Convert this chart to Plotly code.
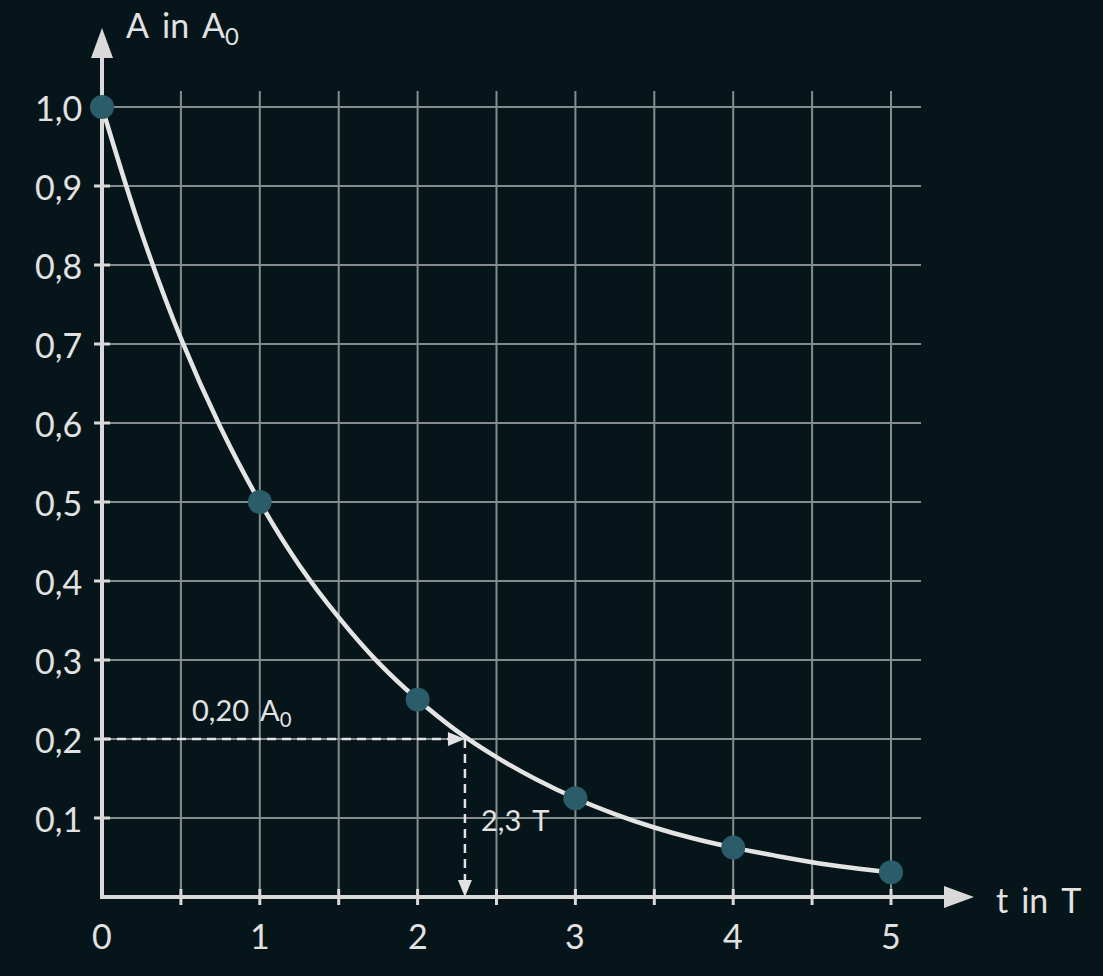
import plotly.graph_objects as go

# ---- data ----
t_points = [0, 1, 2, 3, 4, 5]
a_points = [1.0, 0.5, 0.25, 0.125, 0.0625, 0.03125]
t_curve = [0, 0.25, 0.5, 0.75, 1, 1.25, 1.5, 1.75, 2, 2.25, 2.5, 2.75, 3, 3.25, 3.5, 3.75, 4, 4.25, 4.5, 4.75, 5]
a_curve = [1.0, 0.841, 0.707, 0.595, 0.5, 0.42, 0.354, 0.297, 0.25, 0.21, 0.177, 0.149, 0.125,
           0.105, 0.088, 0.074, 0.0625, 0.053, 0.044, 0.037, 0.031]
x_tick_vals = [0, 1, 2, 3, 4, 5]
x_tick_text = ["0", "1", "2", "3", "4", "5"]
y_tick_vals = [0.1, 0.2, 0.3, 0.4, 0.5, 0.6, 0.7, 0.8, 0.9, 1.0]
y_tick_text = ["0,1", "0,2", "0,3", "0,4", "0,5", "0,6", "0,7", "0,8", "0,9", "1,0"]
x_minor = [0.5, 1, 1.5, 2, 2.5, 3, 3.5, 4, 4.5, 5]
read_a = 0.2
read_t = 2.3

# ---- pixel mapping ----
W, H = 1103, 976
X0, SX = 102, 157.8   # px of t=0, px per unit
Y0, SY = 897, 790     # px of A=0, px per unit

def tx(px):
    return (px - X0) / SX

def ay(py):
    return (Y0 - py) / SY

def dx(p):
    return p / SX

def dy(p):
    return p / SY

BG = "#061519"
GRID = "#858c8e"
AXIS = "#d9d9d9"
TEXT = "#e2e2e2"
DOT = "#2a5d69"
FONT = "Lato"

fig = go.Figure()
shapes = []
grid_top = ay(91)
grid_right = tx(921)
for x in x_minor:
    shapes.append(dict(type="line", x0=x, x1=x, y0=0, y1=grid_top, xref="x", yref="y",
                       line=dict(color=GRID, width=2), layer="below"))
for y in y_tick_vals:
    shapes.append(dict(type="line", x0=0, x1=grid_right, y0=y, y1=y, xref="x", yref="y",
                       line=dict(color=GRID, width=2), layer="below"))
# ticks
for x in x_minor:
    shapes.append(dict(type="line", x0=x, x1=x, y0=-dy(8), y1=dy(8), xref="x", yref="y",
                       line=dict(color=AXIS, width=3), layer="below"))
for y in y_tick_vals:
    shapes.append(dict(type="line", x0=-dx(8), x1=dx(8), y0=y, y1=y, xref="x", yref="y",
                       line=dict(color=AXIS, width=3), layer="below"))
# axes
x_tip = tx(974)
y_tip = ay(28)
shapes.append(dict(type="path", path=f"M {-dx(2)},0 L {x_tip - dx(20)},0", xref="x", yref="y",
                   line=dict(color=AXIS, width=4), layer="below"))
shapes.append(dict(type="path", path=f"M 0,{-dy(2)} L 0,{y_tip - dy(20)}", xref="x", yref="y",
                   line=dict(color=AXIS, width=4), layer="below"))
shapes.append(dict(type="path",
                   path=f"M {x_tip},0 L {x_tip - dx(30)},{dy(11)} L {x_tip - dx(30)},{-dy(11)} Z",
                   xref="x", yref="y", fillcolor=AXIS, line=dict(width=0), layer="below"))
shapes.append(dict(type="path",
                   path=f"M 0,{y_tip} L {-dx(11)},{y_tip - dy(30)} L {dx(11)},{y_tip - dy(30)} Z",
                   xref="x", yref="y", fillcolor=AXIS, line=dict(width=0), layer="below"))
# dashed reading lines
shapes.append(dict(type="line", x0=0, x1=read_t - dx(14), y0=read_a, y1=read_a, xref="x", yref="y",
                   line=dict(color=TEXT, width=2.5, dash="9px,6px"), layer="below"))
shapes.append(dict(type="path",
                   path=f"M {read_t},{read_a} L {read_t - dx(17)},{read_a + dy(7)} L {read_t - dx(17)},{read_a - dy(7)} Z",
                   xref="x", yref="y", fillcolor=TEXT, line=dict(width=0), layer="below"))
shapes.append(dict(type="line", x0=read_t, x1=read_t, y0=read_a, y1=dy(14), xref="x", yref="y",
                   line=dict(color=TEXT, width=2.5, dash="9px,6px"), layer="below"))
shapes.append(dict(type="path",
                   path=f"M {read_t},0 L {read_t - dx(7)},{dy(17)} L {read_t + dx(7)},{dy(17)} Z",
                   xref="x", yref="y", fillcolor=TEXT, line=dict(width=0), layer="below"))

fig.add_trace(go.Scatter(x=t_curve, y=a_curve, mode="lines", line=dict(color="#e4e4e4", width=4.5, shape="spline"),
                         hoverinfo="skip", showlegend=False))
fig.add_trace(go.Scatter(x=t_points, y=a_points, mode="markers",
                         marker=dict(color=DOT, size=24, line=dict(width=0)), showlegend=False))

ann = []
for v, s in zip(x_tick_vals, x_tick_text):
    ann.append(dict(x=v, y=ay(935), text=s, showarrow=False, xanchor="center", yanchor="middle",
                    font=dict(family=FONT, size=34, color=TEXT)))
for v, s in zip(y_tick_vals, y_tick_text):
    ann.append(dict(x=tx(84), y=v, text=s, showarrow=False, xanchor="right", yanchor="middle",
                    font=dict(family=FONT, size=34, color=TEXT)))
ann.append(dict(x=tx(124), y=ay(27), text="A\u2009 in \u2009A<sub>0</sub>", showarrow=False, xanchor="left",
                yanchor="middle", font=dict(family=FONT, size=34, color=TEXT)))
ann.append(dict(x=tx(994), y=ay(899), text="t\u2009 in \u2009T", showarrow=False, xanchor="left",
                yanchor="middle", font=dict(family=FONT, size=34, color=TEXT)))
ann.append(dict(x=tx(190), y=ay(711), text="0,20 \u2009A<sub>0</sub>", showarrow=False, xanchor="left",
                yanchor="middle", font=dict(family=FONT, size=29, color=TEXT)))
ann.append(dict(x=tx(479), y=ay(819), text="2,3 \u2009T", showarrow=False, xanchor="left",
                yanchor="middle", font=dict(family=FONT, size=29, color=TEXT)))

fig.update_layout(
    width=W, height=H, margin=dict(l=0, r=0, t=0, b=0),
    paper_bgcolor=BG, plot_bgcolor=BG,
    xaxis=dict(range=[tx(0), tx(W)], visible=False, fixedrange=True),
    yaxis=dict(range=[ay(H), ay(0)], visible=False, fixedrange=True),
    shapes=shapes, annotations=ann, showlegend=False,
)
fig.write_html("out.html", config={"displayModeBar": False},
               post_script="document.body.style.margin='0';document.body.style.overflow='hidden';"
                           "document.body.style.background='" + BG + "';")
